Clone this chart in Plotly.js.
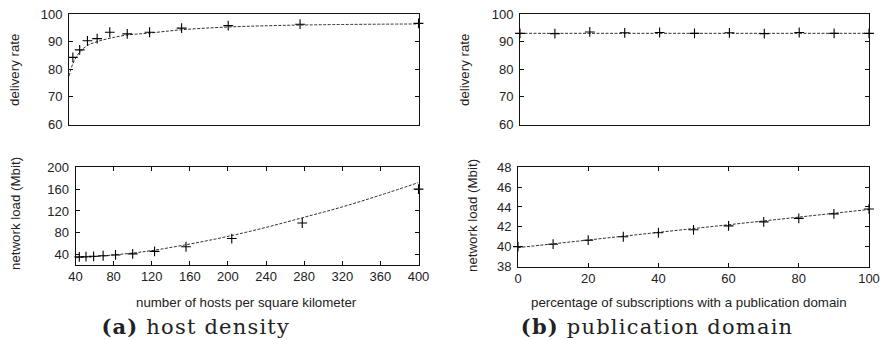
<!DOCTYPE html>
<html>
<head>
<meta charset="utf-8">
<script src="https://cdn.plot.ly/plotly-3.0.1.min.js"></script>
<style>
html,body{margin:0;padding:0;background:#fff;}
#chart{width:883px;height:340px;}
g.annotation[data-index="6"] text, g.annotation[data-index="7"] text{letter-spacing:1.2px;}
</style>
</head>
<body>
<div id="chart"></div>
<script>
// ---- data ----
const hostDensity = [44, 51, 59, 69, 82, 100, 123, 156, 204, 278, 400];
const deliveryRateA = [84.3, 87.0, 90.3, 91.1, 93.4, 92.8, 93.4, 94.9, 95.8, 96.3, 96.6];
const networkLoadA = [36, 36.3, 37, 38, 39.5, 41.5, 46, 54.5, 69.5, 98, 160];

const fitDeliveryXA = [40, 44, 51, 59, 69, 83, 100, 123, 156, 205, 278, 400];
const fitDeliveryA = [77.5, 82.0, 86.2, 88.6, 90.0, 91.3, 92.4, 93.1, 94.3, 95.3, 96.0, 96.4];
const fitLoadXA = [40, 60, 80, 100, 120, 160, 200, 240, 280, 320, 360, 400];
const fitLoadA = [34.5, 36.5, 39.5, 43, 47.5, 59.5, 73.5, 90, 108.5, 127.5, 149, 172];

const pubPercent = [0, 10, 20, 30, 40, 50, 60, 70, 80, 90, 100];
const deliveryRateB = [93.0, 92.9, 93.5, 93.2, 93.3, 93.0, 93.2, 92.9, 93.3, 93.0, 93.0];
const networkLoadB = [40.0, 40.25, 40.65, 41.0, 41.4, 41.7, 42.1, 42.5, 42.85, 43.3, 43.8];

const fitXB = [0, 100];
const fitDeliveryB = [93.0, 93.0];
const fitLoadB = [39.9, 43.75];

const captions = ['<b>(a)</b> host density', '<b>(b)</b> publication domain'];
const xTitles = ['number of hosts per square kilometer', 'percentage of subscriptions with a publication domain'];
const yTitles = ['delivery rate', 'network load (Mbit)'];

// ---- styles ----
const W = 883, H = 340;
const fontSans = 'Liberation Sans, Arial, sans-serif';
const markerStyle = {symbol: 'cross-thin', size: 7, line: {width: 1.1, color: '#000'}, color: '#000'};
const fitStyle = {color: '#333', width: 1, dash: '3px,1.5px'};

function pts(xa, ya, x, y) {
  return {type: 'scatter', mode: 'markers', x: x, y: y, xaxis: xa, yaxis: ya,
          marker: markerStyle, hoverinfo: 'x+y', cliponaxis: false};
}
function fit(xa, ya, x, y, shape) {
  return {type: 'scatter', mode: 'lines', x: x, y: y, xaxis: xa, yaxis: ya,
          line: Object.assign({shape: shape}, fitStyle), hoverinfo: 'skip'};
}

const data = [
  fit('x', 'y', fitDeliveryXA, fitDeliveryA, 'spline'),
  pts('x', 'y', hostDensity, deliveryRateA),
  fit('x2', 'y2', fitLoadXA, fitLoadA, 'spline'),
  pts('x2', 'y2', hostDensity, networkLoadA),
  fit('x3', 'y3', fitXB, fitDeliveryB, 'linear'),
  pts('x3', 'y3', pubPercent, deliveryRateB),
  fit('x4', 'y4', fitXB, fitLoadB, 'linear'),
  pts('x4', 'y4', pubPercent, networkLoadB)
];

function px(a, b) { return [a / W, b / W]; }
function py(top, bottom) { return [1 - bottom / H, 1 - top / H]; }

const baseAxis = {
  showline: true, mirror: 'ticks', linecolor: '#111', linewidth: 1,
  ticks: 'inside', ticklen: 4, tickwidth: 1, tickcolor: '#111',
  showgrid: false, zeroline: false,
  tickfont: {family: fontSans, size: 13, color: '#222'}
};
function ax(extra) { return Object.assign({}, baseAxis, extra); }

const layout = {
  width: W, height: H,
  margin: {l: 0, r: 0, t: 0, b: 0},
  paper_bgcolor: '#fff', plot_bgcolor: '#fff',
  showlegend: false,
  xaxis:  ax({domain: px(69, 418.5), range: [40, 400], anchor: 'y', ticks: '', showticklabels: false, mirror: true}),
  yaxis:  ax({domain: py(14, 124.5), range: [60, 100], dtick: 10, anchor: 'x', ticklabelstandoff: 3}),
  xaxis2: ax({domain: px(75.5, 418.5), range: [40, 400], dtick: 40, tick0: 40, anchor: 'y2'}),
  yaxis2: ax({domain: py(167.3, 264.5), range: [22, 200], tickvals: [40, 80, 120, 160, 200], anchor: 'x2', ticklabelstandoff: 3}),
  xaxis3: ax({domain: px(520, 869), range: [0, 100], anchor: 'y3', ticks: '', showticklabels: false, mirror: true}),
  yaxis3: ax({domain: py(14, 124.5), range: [60, 100], dtick: 10, anchor: 'x3', ticklabelstandoff: 3}),
  xaxis4: ax({domain: px(518, 869), range: [0, 100], dtick: 20, anchor: 'y4'}),
  yaxis4: ax({domain: py(167.3, 266.5), range: [38, 48], dtick: 2, anchor: 'x4', ticklabelstandoff: 3}),
  annotations: []
};

function note(text, x, y, size, family, angle) {
  return {text: text, x: x / W, y: 1 - y / H, xref: 'paper', yref: 'paper',
          xanchor: 'center', yanchor: 'middle', showarrow: false, textangle: angle || 0,
          font: {family: family, size: size, color: '#222'}};
}
layout.annotations.push(
  note(yTitles[0], 15, 70, 13.3, fontSans, -90),
  note(yTitles[1], 15, 214, 13.3, fontSans, -90),
  note(yTitles[0], 465, 70, 13.3, fontSans, -90),
  note(yTitles[1], 472, 216, 13.3, fontSans, -90),
  note(xTitles[0], 246.5, 302, 13.3, fontSans),
  note(xTitles[1], 689, 302, 13.3, fontSans),
  note(captions[0], 196, 326, 21, 'DejaVu Serif, serif'),
  note(captions[1], 657, 326, 21, 'DejaVu Serif, serif')
);

Plotly.newPlot('chart', data, layout, {staticPlot: true, displayModeBar: false});
</script>
</body>
</html>
